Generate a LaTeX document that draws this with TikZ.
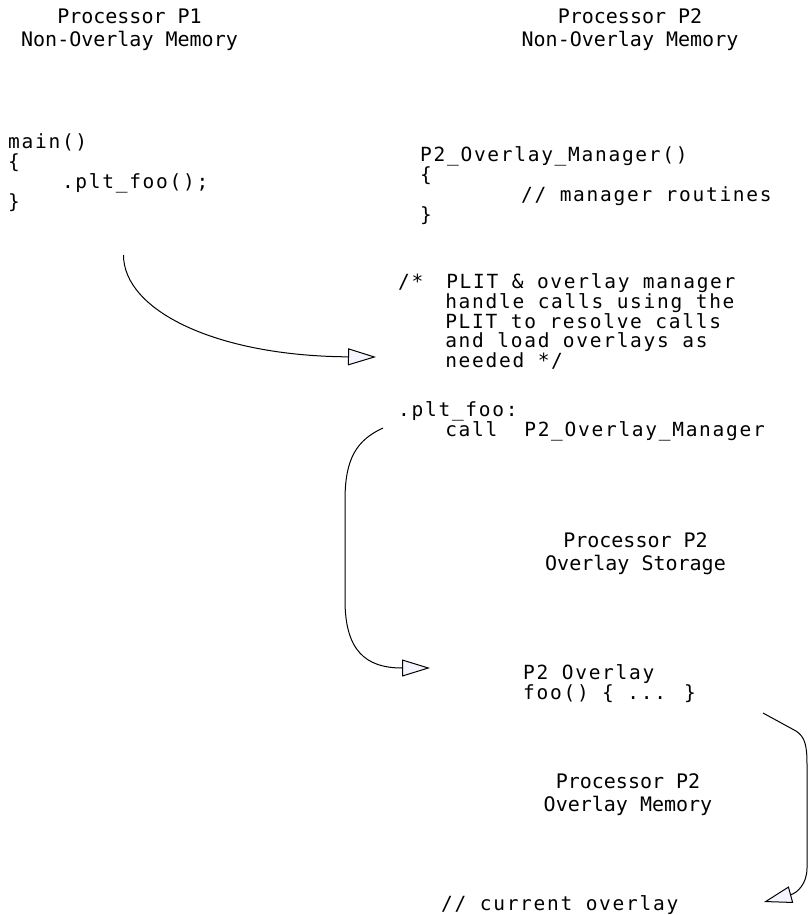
\documentclass[tikz,border=0pt]{standalone}
\usepackage{fontspec}
\usetikzlibrary{arrows.meta}

\newfontfamily\titlefont{DejaVu Sans Mono}
\newfontfamily\codefamily[LetterSpace=8.8]{DejaVu Sans Mono}
\newlength{\cw}
\newlength{\cwa}
% 1文字幅を測ってスペース幅にする
\newcommand{\codefont}{\codefamily\fontsize{19.5}{19.8}\selectfont
  \settowidth{\cw}{aa}\settowidth{\cwa}{a}\addtolength{\cw}{-\cwa}%
  \spaceskip=\cw\relax}

\tikzset{
  title/.style={font=\titlefont\fontsize{20}{23}\selectfont, align=center, anchor=base, inner sep=0pt},
  code/.style={font=\codefont, align=left, anchor=base west, inner sep=0pt},
  callarrow/.style={line width=1pt, -{Triangle[length=28pt, width=17pt, fill=blue!4]}}
}

\begin{document}
\begin{tikzpicture}[x=1pt, y=-1pt]

    % --- 1. 変数定義 ---
    \pgfmathsetmacro{\W}{808}
    \pgfmathsetmacro{\H}{915}
    \pgfmathsetmacro{\lx}{398}

    \useasboundingbox (0,0) rectangle (\W,\H);

    % --- 2. 見出し (座標は最終行のベースライン) ---
    \node[title] (p1title) at (129.5,46.7) {Processor P1\\Non-Overlay Memory};
    \node[title] (p2title) at (630,46.7) {Processor P2\\Non-Overlay Memory};
    \node[title] (stotitle) at (635.5,570) {Processor P2\\Overlay Storage};
    \node[title] (memtitle) at (628,811.7) {Processor P2\\Overlay Memory};

    % --- 3. コード片 ---
    \node[code] (maincode) at (8,208) {main()\\\{\\\hspace*{4\cw}.plt\_foo();\\\}};
    \node[code] (mgrcode) at (420,221) {P2\_Overlay\_Manager()\\\{\\\hspace*{7.5\cw}// manager routines\\\}};
    \node[code] (plitnote) at (\lx,367.7) {/*\hspace*{1.7\cw}PLIT \& overlay manager\\%
        \hspace*{3.5\cw}handle calls using the\\%
        \hspace*{3.5\cw}PLIT to resolve calls\\%
        \hspace*{3.5\cw}and load overlays as\\%
        \hspace*{3.5\cw}needed */};
    \node[code] (pltfoo) at (\lx,436) {.plt\_foo:\\\hspace*{3.5\cw}call\hspace*{2\cw}P2\_Overlay\_Manager};
    \node[code] (ovlfoo) at (523,699) {P2 Overlay\\foo() \{ ... \}};
    \node[code] (curovl) at (441,910) {// current overlay};

    % --- 4. 呼び出しの矢印 ---
    \coordinate (a1s) at (123.5,255);
    \coordinate (a1e) at (376,357);
    \draw[callarrow] (a1s) .. controls (123.5,310) and (215,356) .. (a1e);

    \coordinate (a2s) at (383,428);
    \coordinate (a2e) at (430,668);
    \draw[callarrow] (a2s) .. controls (357,440) and (345,458) .. (345,500)
        -- (345,600) .. controls (345,650) and (365,668) .. (a2e);

    \coordinate (a3s) at (763,713);
    \coordinate (a3e) at (764,902);
    \draw[callarrow] (a3s) -- (796,731) .. controls (805,737) and (807,745) .. (807,765)
        -- (807,868) .. controls (807,884) and (797,893) .. (a3e);

\end{tikzpicture}
\end{document}
